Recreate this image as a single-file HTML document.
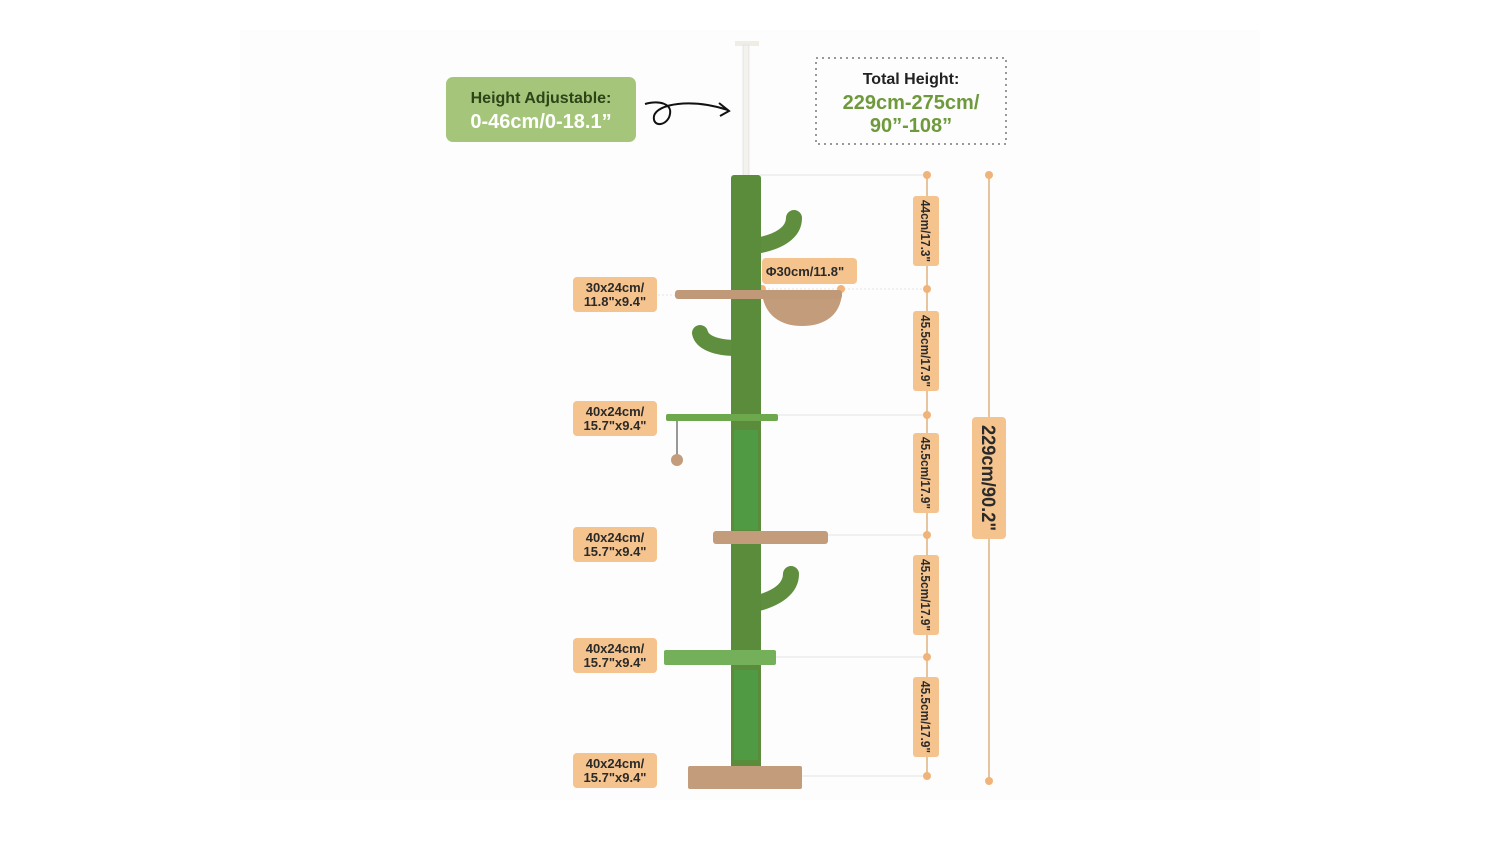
<!DOCTYPE html>
<html><head><meta charset="utf-8"><style>
html,body{margin:0;padding:0;background:#fff;width:1500px;height:844px;overflow:hidden}
svg{display:block}
text{font-family:"Liberation Sans",sans-serif}
</style></head><body>
<svg width="1500" height="844" viewBox="0 0 1500 844">
<rect x="240" y="30" width="1020" height="770" fill="#fdfdfd"/>
<rect x="446" y="77" width="190" height="65" rx="7" fill="#a5c67a"/>
<text x="541" y="103" text-anchor="middle" font-size="16" font-weight="bold" fill="#2d4418">Height Adjustable:</text>
<text x="541" y="128" text-anchor="middle" font-size="20" font-weight="bold" fill="#fff">0-46cm/0-18.1”</text>
<path d="M645 104 C660 100 672 104 670 114 C668 126 652 128 654 116 C657 104 690 98 728 110" fill="none" stroke="#111" stroke-width="2"/>
<path d="M719 103 L729 111 L720 116" fill="none" stroke="#111" stroke-width="2"/>
<rect x="816" y="58" width="190" height="86" fill="none" stroke="#999" stroke-width="2" stroke-dasharray="2 4"/>
<text x="911" y="84" text-anchor="middle" font-size="16" font-weight="bold" fill="#222">Total Height:</text>
<text x="911" y="109" text-anchor="middle" font-size="20" font-weight="bold" fill="#6f9a3c">229cm-275cm/</text>
<text x="911" y="132" text-anchor="middle" font-size="20" font-weight="bold" fill="#6f9a3c">90”-108”</text>
<rect x="735" y="41" width="24" height="5" fill="#f0ede4"/>
<rect x="743" y="45" width="6" height="132" fill="#f4f2ec" stroke="#ddd" stroke-width="0.7"/>
<g stroke="#e2e2e2" stroke-width="1">
<line x1="760" y1="175" x2="927" y2="175"/>
<line x1="760" y1="289" x2="927" y2="289" stroke-dasharray="2 2"/>
<line x1="610" y1="295" x2="680" y2="295" stroke-dasharray="2 2"/>
<line x1="778" y1="415" x2="927" y2="415"/>
<line x1="828" y1="535" x2="927" y2="535"/>
<line x1="776" y1="657" x2="927" y2="657"/>
<line x1="802" y1="776" x2="927" y2="776"/>
</g>
<line x1="927" y1="175" x2="927" y2="776" stroke="#e6c59e" stroke-width="2"/>
<line x1="989" y1="175" x2="989" y2="781" stroke="#e6c59e" stroke-width="2"/>
<g fill="#f0b47a">
<circle cx="927" cy="175" r="4"/><circle cx="927" cy="289" r="4"/><circle cx="927" cy="415" r="4"/>
<circle cx="927" cy="535" r="4"/><circle cx="927" cy="657" r="4"/><circle cx="927" cy="776" r="4"/>
<circle cx="989" cy="175" r="4"/><circle cx="989" cy="781" r="4"/>
<circle cx="762" cy="289" r="4"/><circle cx="841" cy="289" r="4"/>
</g>
<g fill="#f5c38e">
<rect x="913" y="196" width="26" height="70" rx="3"/>
<rect x="913" y="311" width="26" height="80" rx="3"/>
<rect x="913" y="433" width="26" height="80" rx="3"/>
<rect x="913" y="555" width="26" height="80" rx="3"/>
<rect x="913" y="677" width="26" height="80" rx="3"/>
<rect x="972" y="417" width="34" height="122" rx="4"/>
<rect x="762" y="258" width="95" height="26" rx="4"/>
<rect x="573" y="277" width="84" height="35" rx="4"/>
<rect x="573" y="401" width="84" height="35" rx="4"/>
<rect x="573" y="527" width="84" height="35" rx="4"/>
<rect x="573" y="638" width="84" height="35" rx="4"/>
<rect x="573" y="753" width="84" height="35" rx="4"/>
</g>
<g font-size="13" font-weight="bold" fill="#2a2a2a" text-anchor="middle">
<text transform="translate(921,231) rotate(90)" textLength="62" lengthAdjust="spacingAndGlyphs">44cm/17.3"</text>
<text transform="translate(921,351) rotate(90)" textLength="72" lengthAdjust="spacingAndGlyphs">45.5cm/17.9"</text>
<text transform="translate(921,473) rotate(90)" textLength="72" lengthAdjust="spacingAndGlyphs">45.5cm/17.9"</text>
<text transform="translate(921,595) rotate(90)" textLength="72" lengthAdjust="spacingAndGlyphs">45.5cm/17.9"</text>
<text transform="translate(921,717) rotate(90)" textLength="72" lengthAdjust="spacingAndGlyphs">45.5cm/17.9"</text>
<text transform="translate(982,478) rotate(90)" font-size="19" textLength="106" lengthAdjust="spacingAndGlyphs">229cm/90.2"</text>
<text x="805" y="276" font-size="13">Φ30cm/11.8"</text>
<text x="615" y="292">30x24cm/</text><text x="615" y="306">11.8"x9.4"</text>
<text x="615" y="416">40x24cm/</text><text x="615" y="430">15.7"x9.4"</text>
<text x="615" y="542">40x24cm/</text><text x="615" y="556">15.7"x9.4"</text>
<text x="615" y="653">40x24cm/</text><text x="615" y="667">15.7"x9.4"</text>
<text x="615" y="768">40x24cm/</text><text x="615" y="782">15.7"x9.4"</text>
</g>
<g fill="none" stroke="#5e8e3e" stroke-width="16" stroke-linecap="round">
<path d="M755 246 C780 242 794 232 794 218"/>
<path d="M737 348 C715 348 702 342 700 333"/>
<path d="M755 604 C778 598 791 588 791 574"/>
</g>
<rect x="731" y="175" width="30" height="602" rx="3" fill="#5b8c3c"/>
<rect x="734" y="430" width="24" height="100" fill="#4f9a42"/>
<rect x="734" y="670" width="24" height="90" fill="#4f9a42"/>
<path d="M762 294 L842 294 C840 315 825 326 802 326 C780 326 765 315 762 294 Z" fill="#c39c7c"/>
<rect x="675" y="290" width="167" height="9" rx="3" fill="#c09a78"/>
<rect x="666" y="414" width="112" height="7" rx="2" fill="#6da94c"/>
<line x1="677" y1="421" x2="677" y2="455" stroke="#333" stroke-width="1"/>
<circle cx="677" cy="460" r="6" fill="#c39c7c"/>
<rect x="713" y="531" width="115" height="13" rx="3" fill="#c39c7c"/>
<rect x="664" y="650" width="112" height="15" rx="2" fill="#74b05a"/>
<rect x="688" y="766" width="114" height="23" rx="2" fill="#c39c7c"/>
</svg>
</body></html>
